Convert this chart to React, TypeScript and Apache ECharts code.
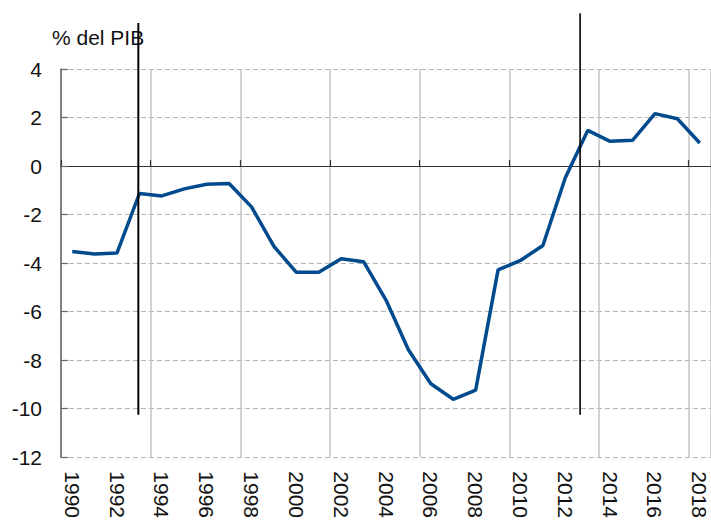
import React, { useEffect, useRef } from "react";
import * as echarts from "echarts";

const years: string[] = [
  "1990", "1991", "1992", "1993", "1994", "1995", "1996", "1997", "1998", "1999",
  "2000", "2001", "2002", "2003", "2004", "2005", "2006", "2007", "2008", "2009",
  "2010", "2011", "2012", "2013", "2014", "2015", "2016", "2017", "2018",
];

const balance: number[] = [
  -3.52, -3.62, -3.58, -1.13, -1.23, -0.94, -0.75, -0.72, -1.68, -3.31,
  -4.38, -4.38, -3.82, -3.94, -5.52, -7.57, -8.97, -9.61, -9.23, -4.28,
  -3.89, -3.27, -0.48, 1.47, 1.02, 1.06, 2.16, 1.95, 0.95,
];

// vertical reference lines: [year position, bottom value, top value]
const vline1: number[][] = [[1992.95, -10.25], [1992.95, 5.9]];
const vline2: number[][] = [[2012.66, -10.25], [2012.66, 6.3]];

const yTicks = { min: -12, max: 4, interval: 2 };
const unitLabel = "% del PIB";

const FONT = "Liberation Sans, Arial, sans-serif";
const TEXT = "#111111";

export default function App() {
  const ref = useRef<HTMLDivElement>(null);

  useEffect(() => {
    if (!ref.current) return;
    const chart = echarts.init(ref.current, null, { renderer: "svg" });
    chart.setOption({
      animation: false,
      backgroundColor: "#ffffff",
      title: {
        text: unitLabel,
        left: 52,
        top: 27,
        padding: 0,
        textStyle: { fontFamily: FONT, fontSize: 21, fontWeight: "normal", color: TEXT },
      },
      grid: { left: 61, right: 0, top: 69, bottom: 61, containLabel: false },
      xAxis: [
        {
          type: "category",
          data: years,
          position: "bottom",
          boundaryGap: true,
          axisLine: { show: false, onZero: false },
          axisTick: { show: false },
          axisLabel: {
            interval: 1,
            rotate: -90,
            margin: 14,
            fontFamily: FONT,
            fontSize: 21,
            color: TEXT,
          },
          splitLine: {
            show: true,
            interval: 3,
            lineStyle: { color: "#c4c4c4", width: 1.5, type: "solid" },
          },
        },
        {
          type: "category",
          data: years,
          position: "bottom",
          boundaryGap: true,
          axisLine: { show: true, onZero: true, lineStyle: { color: "#333333", width: 1.2 } },
          axisTick: {
            show: true,
            inside: true,
            interval: 3,
            length: 6,
            lineStyle: { color: "#333333", width: 1.2 },
          },
          axisLabel: { show: false },
          splitLine: { show: false },
        },
        {
          type: "value",
          min: 1989.5,
          max: 2018.5,
          show: false,
          splitLine: { show: false },
        },
      ],
      yAxis: {
        type: "value",
        min: yTicks.min,
        max: yTicks.max,
        interval: yTicks.interval,
        axisLine: { show: true, lineStyle: { color: "#666666", width: 1.5 } },
        axisTick: { show: true, inside: true, length: 7, lineStyle: { color: "#666666", width: 1.2 } },
        axisLabel: { margin: 19, fontFamily: FONT, fontSize: 21, color: TEXT },
        splitLine: {
          show: true,
          lineStyle: { color: "#b5b5b5", width: 1, type: [5, 3] },
        },
      },
      series: [
        {
          type: "line",
          xAxisIndex: 0,
          data: balance,
          symbol: "none",
          lineStyle: { color: "#004a8d", width: 3.5 },
          z: 5,
        },
        {
          type: "line",
          xAxisIndex: 2,
          data: vline1,
          symbol: "none",
          clip: false,
          lineStyle: { color: "#000000", width: 2 },
          z: 6,
        },
        {
          type: "line",
          xAxisIndex: 2,
          data: vline2,
          symbol: "none",
          clip: false,
          lineStyle: { color: "#000000", width: 1.6 },
          z: 6,
        },
      ],
    });
    return () => chart.dispose();
  }, []);

  return (
    <div
      ref={ref}
      style={{ position: "fixed", left: 0, top: 0, width: 711, height: 521, background: "#fff" }}
    />
  );
}
